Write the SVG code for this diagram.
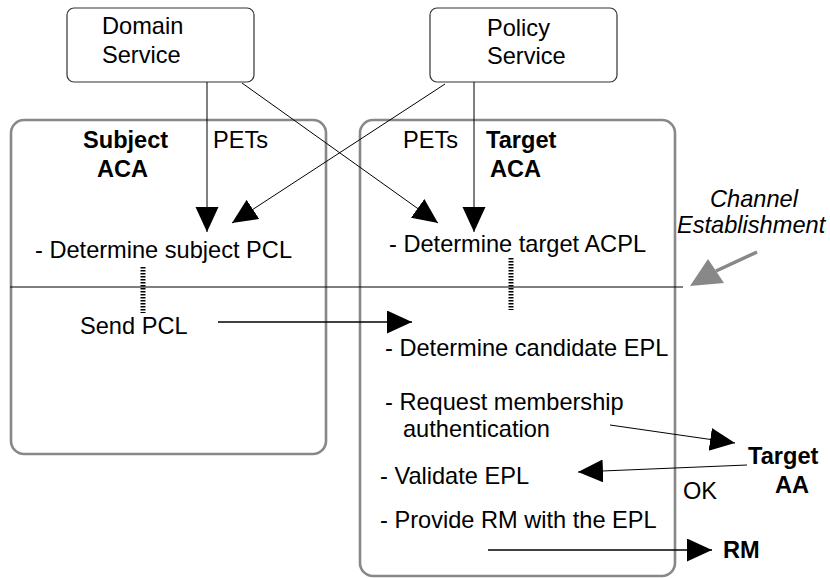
<svg xmlns="http://www.w3.org/2000/svg" width="830" height="578" viewBox="0 0 830 578">
  <style>
    text { font-family: "Liberation Sans", Arial, Helvetica, sans-serif; font-size: 23.6px; fill: #000; }
    .b { font-weight: bold; }
    .i { font-style: italic; }
    .svc { fill: #fff; stroke: #333; stroke-width: 1.2; }
    .aca { fill: none; stroke: #888; stroke-width: 2.6; }
    .ln { fill: none; stroke: #000; stroke-width: 1; }
    .ln2 { fill: none; stroke: #000; stroke-width: 1.5; }
    .stub { fill: none; stroke: #000; stroke-width: 5; stroke-dasharray: 1.5 1.5; }
  </style>
  <defs>
    <marker id="head" markerUnits="userSpaceOnUse" markerWidth="26" markerHeight="24" refX="25" refY="11.5" orient="auto">
      <path d="M0,0 L25,11.5 L0,23 z" fill="#000"/>
    </marker>
  </defs>

  <!-- service boxes -->
  <g id="domain-service">
    <rect class="svc" x="67" y="8" width="187" height="74" rx="7"/>
    <text x="102" y="34">Domain</text>
    <text x="102" y="63">Service</text>
  </g>
  <g id="policy-service">
    <rect class="svc" x="430" y="8" width="187" height="74" rx="7"/>
    <text x="487" y="36">Policy</text>
    <text x="487" y="64">Service</text>
  </g>

  <!-- access control agents -->
  <g id="subject-aca">
    <rect class="aca" x="11" y="120" width="315" height="334" rx="13"/>
    <text class="b" x="83" y="148">Subject</text>
    <text class="b" x="97" y="177">ACA</text>
    <text x="35" y="258">- Determine subject PCL</text>
    <text x="80" y="334">Send PCL</text>
  </g>
  <g id="target-aca">
    <rect class="aca" x="360" y="120" width="315" height="456" rx="13"/>
    <text class="b" x="486" y="148">Target</text>
    <text class="b" x="490" y="177">ACA</text>
    <text x="389" y="252">- Determine target ACPL</text>
    <text x="385" y="356">- Determine candidate EPL</text>
    <text x="385" y="410">- Request membership</text>
    <text x="403" y="437">authentication</text>
    <text x="380" y="484">- Validate EPL</text>
    <text x="380" y="528">- Provide RM with the EPL</text>
  </g>

  <g id="target-aa">
    <text class="b" x="748" y="464">Target</text>
    <text class="b" x="775" y="493">AA</text>
  </g>
  <g id="rm">
    <text class="b" x="723" y="558">RM</text>
  </g>
  <g id="channel-establishment">
    <text class="i" x="710" y="207">Channel</text>
    <text class="i" x="677" y="233">Establishment</text>
    <line x1="757" y1="252" x2="716" y2="271" stroke="#888" stroke-width="3.5"/>
    <polygon points="690,286 708,259 724,283" fill="#888"/>
  </g>

  <!-- connectors -->
  <g id="connectors">
    <line class="ln" x1="207" y1="82" x2="207" y2="232" marker-end="url(#head)"/>
    <line class="ln" x1="242" y1="83" x2="438" y2="223" marker-end="url(#head)"/>
    <line class="ln" x1="445" y1="84" x2="232" y2="223" marker-end="url(#head)"/>
    <line class="ln" x1="474" y1="82" x2="474" y2="232" marker-end="url(#head)"/>
    <line class="ln" x1="10" y1="287" x2="683" y2="287"/>
    <line class="stub" x1="143" y1="267" x2="143" y2="313"/>
    <line class="stub" x1="511" y1="258" x2="511" y2="310"/>
    <line class="ln2" x1="218" y1="322" x2="412" y2="322" marker-end="url(#head)"/>
    <line class="ln" x1="610" y1="425" x2="735" y2="443" marker-end="url(#head)"/>
    <line class="ln" x1="747" y1="465" x2="578" y2="472" marker-end="url(#head)"/>
    <line class="ln2" x1="488" y1="550" x2="712" y2="550" marker-end="url(#head)"/>
    <text x="683" y="499">OK</text>
    <text x="213" y="148">PETs</text>
    <text x="403" y="148">PETs</text>
  </g>
</svg>
